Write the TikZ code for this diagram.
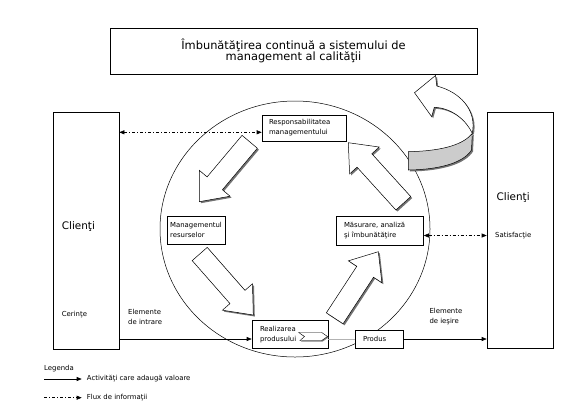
\documentclass[tikz,border=0pt]{standalone}
\usepackage{fontspec}
\setmainfont{DejaVu Sans}
\usetikzlibrary{calc,arrows.meta,shadows}
\newcommand\blockarrow[2]{%
  \coordinate (ba-t) at #1;
  \coordinate (ba-p) at #2;
  \coordinate (ba-h) at ($(ba-p)!24pt!(ba-t)$);
  \path[barrow] ($(ba-t)!10pt!90:(ba-p)$) -- ($(ba-h)!10pt!90:(ba-p)$)
     -- ($(ba-h)!20pt!90:(ba-p)$) -- (ba-p) -- ($(ba-h)!20pt!-90:(ba-p)$)
     -- ($(ba-h)!10pt!-90:(ba-p)$) -- ($(ba-t)!10pt!-90:(ba-p)$) -- cycle;
}
\begin{document}
\begin{tikzpicture}[x=1pt,y=-1pt,
  >={Triangle[length=5pt,width=4pt]},
  every node/.style={inner sep=0pt},
  box/.style={draw, fill=white, line width=0.6pt},
  sm/.style={font=\fontsize{6.9pt}{10pt}\selectfont},
  big/.style={font=\fontsize{10.4pt}{12pt}\selectfont},
  flow/.style={line width=0.6pt, ->},
  info/.style={line width=0.6pt, dash pattern=on 3pt off 2pt on 1pt off 2pt},
  shd/.style={drop shadow={shadow xshift=1.5pt, shadow yshift=-1.5pt, fill=black!55, opacity=1}},
  barrow/.style={draw, fill=white, line width=0.5pt, shd},
]
\useasboundingbox[fill=white] (0,0) rectangle (575,408);
% circle
\draw[line width=0.5pt] (295,229) ellipse [x radius=135, y radius=128];
% block arrows
\blockarrow{(249.7,141.8)}{(199.3,201.7)}
\blockarrow{(199.7,254)}{(253.3,315)}
\blockarrow{(334.7,318.3)}{(378.3,251.7)}
\blockarrow{(403.3,203.3)}{(348.3,142.7)}
% curved improvement arrow
\path[draw, fill=white, line width=0.5pt, shd] (435.5,75.5) -- (436.8,86)
  .. controls (460,92) and (477,110) .. (472.3,133.3)
  .. controls (466,120) and (452,108) .. (434.3,107.3)
  -- (431.7,116.7) -- (414.5,92.7) -- cycle;
\path[draw, fill=gray!40, line width=0.5pt, shd] (472.3,133.3)
  .. controls (464,144) and (444,151) .. (408.3,151.7)
  -- (408.3,170)
  .. controls (442,169.5) and (464,162) .. (471.5,150) -- cycle;
% boxes
\node[box, minimum width=367pt, minimum height=46pt, align=center,
      font=\fontsize{11.4pt}{11.5pt}\selectfont] (top) at (293.5,51)
  {Îmbunătăţirea continuă a sistemului de\\management al calităţii};
\node[box, minimum width=66pt, minimum height=237pt] (lc) at (86,230.5) {};
\node[box, minimum width=66pt, minimum height=236pt] (rc) at (520,230) {};
\node[box, sm, align=left, text width=70pt, inner xsep=7pt, minimum height=26pt] (resp) at (304,128)
  {Responsabilitatea\\managementului};
\node[box, sm, align=left, minimum width=58pt, minimum height=28pt] (res) at (196,230)
  {Managementul\\resurselor};
\node[box, sm, align=left, text width=71.5pt, inner xsep=8pt, minimum height=29pt] (mas) at (379.75,231)
  {Măsurare, analiză\\şi îmbunătăţire};
\node[box, sm, align=left, text width=60pt, inner xsep=8pt, minimum height=28.5pt] (real) at (290,334.25)
  {Realizarea\\produsului};
\node[box, sm, align=left, text width=32pt, inner xsep=8pt, minimum height=18.3pt] (prod) at (379,339)
  {Produs};
% small chevron inside Realizarea
\path[draw, fill=white, line width=0.4pt, drop shadow={shadow xshift=1pt, shadow yshift=-1pt, fill=black!50, opacity=1}]
  (298.7,332.5) -- (321.7,332.5) -- (327.5,336.5) -- (321.7,340.5) -- (300,340.5) -- (304.5,336.5) -- cycle;
% texts in client boxes
\node[big, anchor=west] (lct) at (61.7,227) {Clienţi};
\node[sm, anchor=west] (cer) at (61.7,315) {Cerinţe};
\node[big, anchor=west] (rct) at (496.5,198) {Clienţi};
\node[sm, anchor=west] (sat) at (495,235.7) {Satisfacţie};
\node[sm, anchor=west, align=left] (ein) at (128,317) {Elemente\\de intrare};
\node[sm, anchor=west, align=left] (eout) at (429.3,316.5) {Elemente\\de ieşire};
% connectors
\coordinate (r1) at ([yshift=-4.3pt]resp.west);
\draw[info, <->] (lc.east |- r1) -- (r1);
\coordinate (m1) at ([yshift=-4.5pt]mas.east);
\draw[info, <->] (m1) -- (rc.west |- m1);
\draw[flow] (lc.east |- prod.west) -- (real.west |- prod.west);
\draw[line width=0.9pt, gray!60] (real.east |- prod.west) -- (prod.west);
\draw[flow] (prod.east) -- (rc.west |- prod.east);
% legend
\node[sm, anchor=west] (leg) at (44,369) {Legenda};
\coordinate (la1) at (44,379); \coordinate (la2) at (81.7,379);
\draw[flow] (la1) -- (la2);
\node[sm, anchor=west] (legt1) at (86.7,379) {Activităţi care adaugă valoare};
\coordinate (lb1) at (44,397.7); \coordinate (lb2) at (81.7,397.7);
\draw[info, ->] (lb1) -- (lb2);
\node[sm, anchor=west] (legt2) at (86.7,398) {Flux de informaţii};
\end{tikzpicture}
\end{document}
